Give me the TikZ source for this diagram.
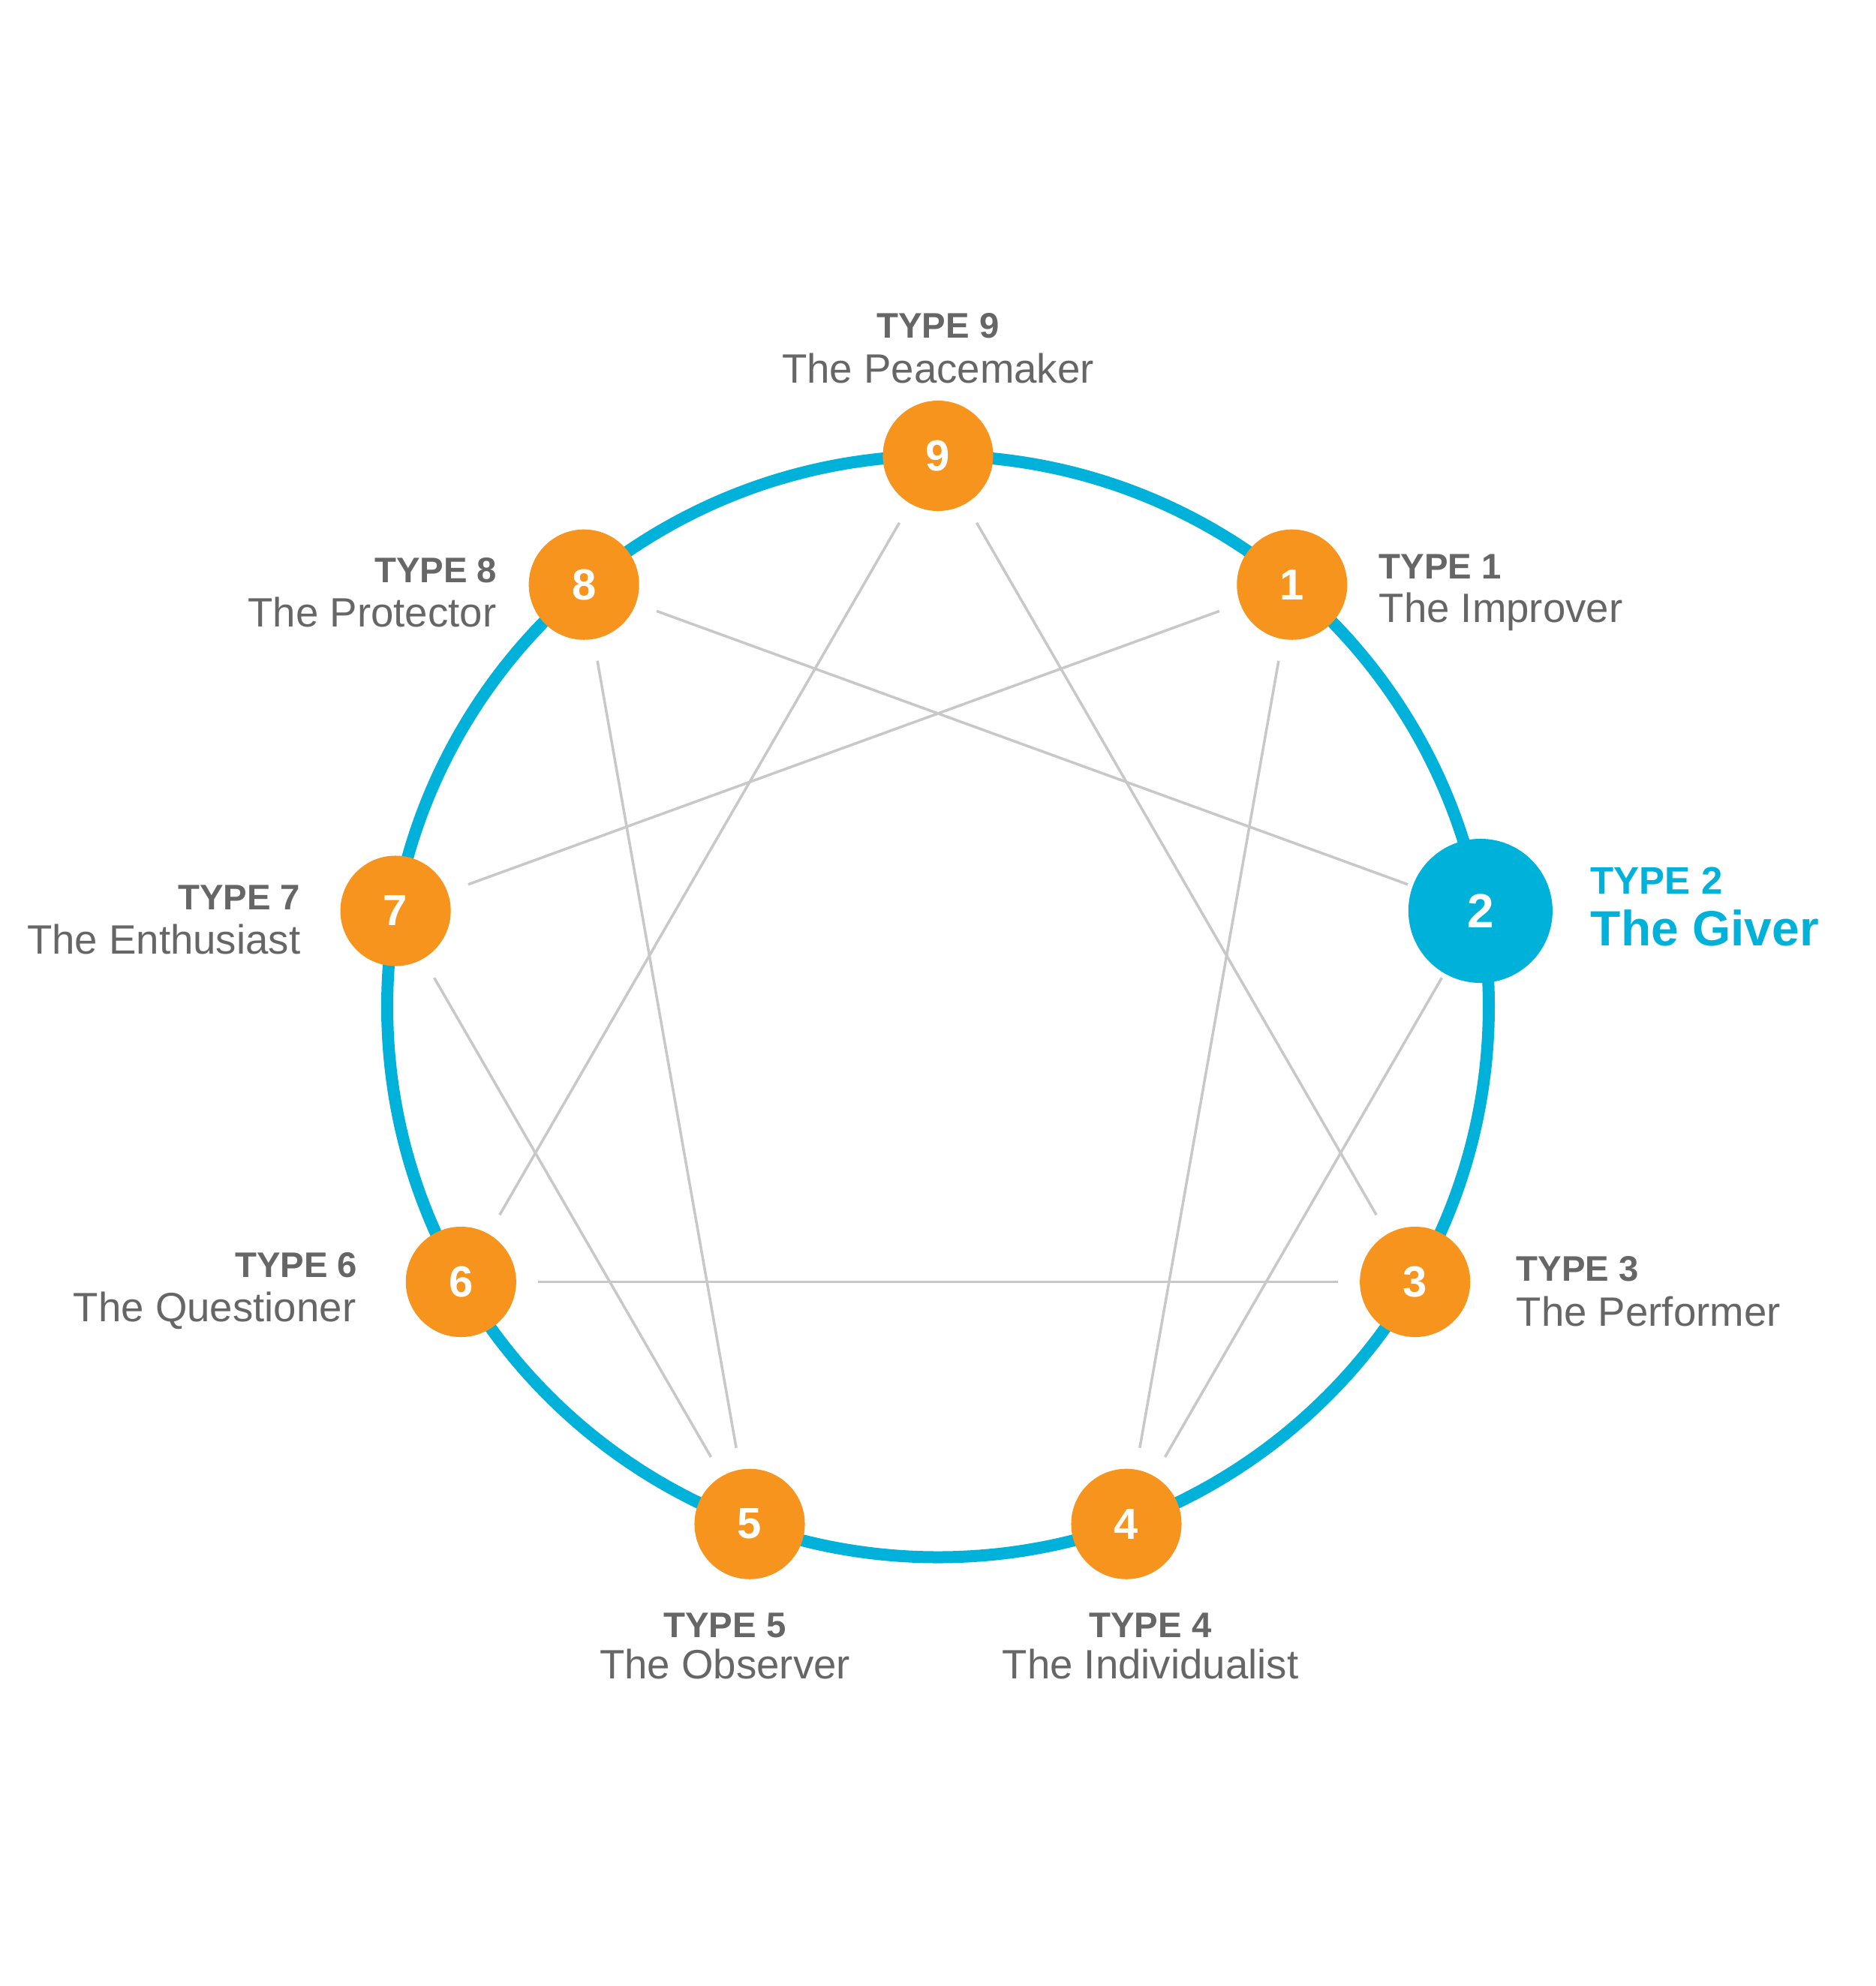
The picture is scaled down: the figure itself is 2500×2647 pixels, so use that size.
\documentclass[tikz,border=0pt]{standalone}
\usepackage{fontspec}
\setmainfont{Liberation Sans}
\definecolor{ringblue}{HTML}{00B2D9}
\definecolor{nodeorange}{HTML}{F7941D}
\definecolor{txtgray}{HTML}{666666}
\definecolor{linegray}{HTML}{C8C8C8}
\tikzset{
  ring/.style={draw=ringblue, line width=0.16cm},
  typenode/.style={circle, fill=nodeorange, minimum size=1.47cm, inner sep=0pt,
    text=white, font=\bfseries\fontsize{16.5pt}{18pt}\selectfont},
  bignode/.style={circle, fill=ringblue, minimum size=1.92cm, inner sep=0pt,
    text=white, font=\bfseries\fontsize{18.2pt}{20pt}\selectfont},
  conn/.style={draw=linegray, line width=0.035cm, shorten >=1.03cm, shorten <=1.03cm},
  typelbl/.style={inner sep=0pt, text=txtgray, font=\bfseries\fontsize{13.46pt}{15pt}\selectfont},
  namelbl/.style={inner sep=0pt, text=txtgray, font=\fontsize{15.53pt}{18pt}\selectfont},
  typelblhi/.style={inner sep=0pt, text=ringblue, font=\bfseries\fontsize{14.5pt}{16pt}\selectfont},
  namelblhi/.style={inner sep=0pt, text=ringblue, font=\bfseries\fontsize{18.75pt}{21pt}\selectfont},
}
\begin{document}
\begin{tikzpicture}[x=0.01cm, y=-0.01cm]
\useasboundingbox[fill=white] (0,0) rectangle (2500,2647);
% outer ring
\draw[ring] (1250,1341.5) circle[radius=734];
% type nodes
\node[typenode] (n9) at (1250,607.5) {9};
\node[typenode] (n1) at (1721.8,779.2) {1};
\node[bignode]  (n2) at (1972.9,1214.0) {2};
\node[typenode] (n3) at (1885.7,1708.5) {3};
\node[typenode] (n4) at (1501.0,2031.2) {4};
\node[typenode] (n5) at (999.0,2031.2) {5};
\node[typenode] (n6) at (614.3,1708.5) {6};
\node[typenode] (n7) at (527.1,1214.0) {7};
\node[typenode] (n8) at (778.2,779.2) {8};
% inner connectors
\draw[conn] (n9.center) -- (n3.center);
\draw[conn] (n9.center) -- (n6.center);
\draw[conn] (n6.center) -- (n3.center);
\draw[conn] (n1.center) -- (n4.center);
\draw[conn] (n4.center) -- (n2.center);
\draw[conn] (n2.center) -- (n8.center);
\draw[conn] (n8.center) -- (n5.center);
\draw[conn] (n5.center) -- (n7.center);
\draw[conn] (n7.center) -- (n1.center);
% labels
\node[typelbl, anchor=base] (t9a) at (1250,450) {TYPE 9};
\node[namelbl, anchor=base] (t9b) at (1250,510) {The Peacemaker};
\node[typelbl, anchor=base west] (t1a) at (1837,771) {TYPE 1};
\node[namelbl, anchor=base west] (t1b) at (1837,829) {The Improver};
\node[typelblhi, anchor=base west] (t2a) at (2119,1191) {TYPE 2};
\node[namelblhi, anchor=base west] (t2b) at (2119,1260) {The Giver};
\node[typelbl, anchor=base west] (t3a) at (2020,1707) {TYPE 3};
\node[namelbl, anchor=base west] (t3b) at (2020,1767) {The Performer};
\node[typelbl, anchor=base] (t4a) at (1533,2182) {TYPE 4};
\node[namelbl, anchor=base] (t4b) at (1533,2237) {The Individualist};
\node[typelbl, anchor=base] (t5a) at (966,2182) {TYPE 5};
\node[namelbl, anchor=base] (t5b) at (966,2237) {The Observer};
\node[typelbl, anchor=base east] (t6a) at (477,1702) {TYPE 6};
\node[namelbl, anchor=base east] (t6b) at (475,1761) {The Questioner};
\node[typelbl, anchor=base east] (t7a) at (401,1212) {TYPE 7};
\node[namelbl, anchor=base east] (t7b) at (401,1271) {The Enthusiast};
\node[typelbl, anchor=base east] (t8a) at (663,776) {TYPE 8};
\node[namelbl, anchor=base east] (t8b) at (662,835) {The Protector};
\end{tikzpicture}
\end{document}
